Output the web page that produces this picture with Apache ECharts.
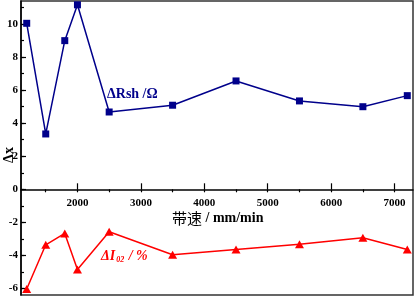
<!DOCTYPE html>
<html>
<head>
<meta charset="utf-8">
<script src="https://cdn.jsdelivr.net/npm/echarts@6/dist/echarts.min.js"></script>
<style>
  html, body { margin: 0; padding: 0; background: #fff; }
  #chart { width: 416px; height: 296px; }
</style>
</head>
<body>
<div id="chart"></div>
<script>
// belt speed (mm/min) and the two measured changes
const speed = [1200, 1500, 1800, 2000, 2500, 3500, 4500, 5500, 6500, 7200]
const deltaRsh = [10.05, 3.35, 9.0, 11.17, 4.68, 5.09, 6.56, 5.35, 5.0, 5.67]
const deltaI02 = [-6.04, -3.36, -2.67, -4.85, -2.57, -3.96, -3.64, -3.33, -2.93, -3.64]

// tick positions / labels
const xLabels = [2000, 3000, 4000, 5000, 6000, 7000]
const xTicks = [1500, 2000, 2500, 3000, 3500, 4000, 4500, 5000, 5500, 6000, 6500, 7000]
const yLabels = [-6, -4, -2, 0, 2, 4, 6, 8, 10]
const yTicks = [-6, -5, -4, -3, -2, -1, 0, 1, 2, 3, 4, 5, 6, 7, 8, 9, 10, 11]

const xMin = 1110, xMax = 7290
const yMin = -6.4, yMax = 11.4

const serif = 'Liberation Serif'
const chart = echarts.init(document.getElementById('chart'))

const gridBox = { left: 21, right: 3, top: 1, bottom: 1, containLabel: false, outerBoundsMode: 'none' }
// upper part of the box, its bottom edge sits on y = 0 (for the x labels)
const zeroBottom = 296 - (1 + 294 * yMax / (yMax - yMin))
const tickStyle = { color: '#000', width: 1.2 }
const labelFont = { color: '#000', fontFamily: serif, fontSize: 11, fontWeight: 'bold' }

chart.setOption({
  animation: false,
  grid: [
    Object.assign({ show: true, borderColor: '#333', borderWidth: 1.5 }, gridBox),
    Object.assign({}, gridBox),
    Object.assign({}, gridBox, { bottom: zeroBottom })
  ],
  xAxis: [
    {
      type: 'value', gridIndex: 0, min: xMin, max: xMax, position: 'bottom',
      splitLine: { show: false },
      axisLine: { onZero: true, lineStyle: { color: '#000', width: 1.5 } },
      axisTick: { inside: true, customValues: xLabels, length: 6, lineStyle: tickStyle },
      axisLabel: { show: false }
    },
    {
      type: 'value', gridIndex: 1, min: xMin, max: xMax, position: 'bottom',
      splitLine: { show: false },
      axisLine: { show: false, onZero: true },
      axisTick: { customValues: xTicks, length: 3, lineStyle: tickStyle },
      axisLabel: { show: false }
    },
    {
      type: 'value', gridIndex: 2, min: xMin, max: xMax, position: 'bottom',
      splitLine: { show: false },
      axisLine: { show: false, onZero: false },
      axisTick: { show: false },
      axisLabel: Object.assign({ customValues: xLabels, margin: 8, formatter: v => String(v) }, labelFont)
    }
  ],
  yAxis: [
    {
      type: 'value', gridIndex: 0, min: yMin, max: yMax, position: 'left',
      splitLine: { show: false },
      axisLine: { show: true, onZero: false, lineStyle: { color: '#000', width: 1.5 } },
      axisTick: { inside: true, customValues: yTicks, length: 3, lineStyle: tickStyle },
      axisLabel: Object.assign({ customValues: yLabels, margin: 3 }, labelFont)
    },
    {
      type: 'value', gridIndex: 1, min: yMin, max: yMax, position: 'left',
      splitLine: { show: false },
      axisLine: { show: false, onZero: false },
      axisTick: { inside: true, customValues: yLabels, length: 5, lineStyle: tickStyle },
      axisLabel: { show: false }
    },
    {
      type: 'value', gridIndex: 2, min: 0, max: yMax, show: false
    }
  ],
  series: [
    {
      type: 'line',
      xAxisIndex: 0, yAxisIndex: 0,
      data: speed.map((s, i) => [s, deltaRsh[i]]),
      symbol: 'rect',
      symbolSize: 7,
      lineStyle: { color: '#00008b', width: 1.5 },
      itemStyle: { color: '#00008b' }
    },
    {
      type: 'line',
      xAxisIndex: 0, yAxisIndex: 0,
      data: speed.map((s, i) => [s, deltaI02[i]]),
      symbol: 'triangle',
      symbolSize: [9, 8],
      lineStyle: { color: '#ff0000', width: 1.5 },
      itemStyle: { color: '#ff0000' }
    }
  ],
  graphic: [
    {
      type: 'text',
      left: 107, top: 87,
      style: {
        text: 'ΔRsh /Ω',
        fill: '#00008b',
        font: 'bold 14px "Liberation Serif"'
      }
    },
    {
      type: 'text',
      left: 101, top: 249,
      style: {
        text: '{a|ΔI}{s|02}{a| / %}',
        rich: {
          a: { fill: '#ff0000', fontFamily: serif, fontSize: 14, fontWeight: 'bold', fontStyle: 'italic', lineHeight: 16 },
          s: { fill: '#ff0000', fontFamily: serif, fontSize: 8, fontWeight: 'bold', fontStyle: 'italic', padding: [8, 1, 0, 1] }
        }
      }
    },
    {
      type: 'text',
      left: 172, top: 211,
      style: {
        text: '{c|带速}{b| / mm/min}',
        rich: {
          c: { fill: '#000', fontFamily: 'Noto Sans CJK SC', fontSize: 15 },
          b: { fill: '#000', fontFamily: serif, fontSize: 14, fontWeight: 'bold' }
        }
      }
    },
    {
      type: 'text',
      x: 9, y: 155,
      rotation: Math.PI / 2,
      style: {
        text: 'Δx',
        fill: '#000',
        font: 'bold 14px "Liberation Serif"',
        align: 'center',
        verticalAlign: 'middle'
      }
    }
  ]
})
</script>
</body>
</html>
